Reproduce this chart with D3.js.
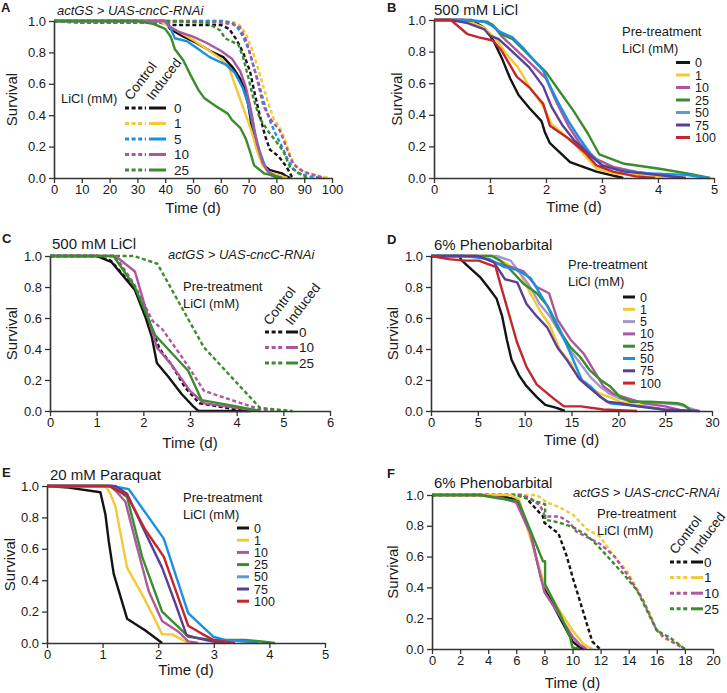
<!DOCTYPE html>
<html>
<head>
<meta charset="utf-8">
<script src="https://cdn.jsdelivr.net/npm/d3@7"></script>
<style>
  body { margin: 0; background: #fff; }
  text { font-family: "Liberation Sans", Arial, sans-serif; fill: #1a1a1a; }
  .axis .domain { stroke: #333; stroke-width: 1.6; }
  .axis .tick line { stroke: #333; stroke-width: 1.3; }
  .axis .tick text { font-size: 13px; }
</style>
</head>
<body>
<div id="fig"></div>
<script>
// ---- data: [time (d), survival] ----

// A: actGS > UAS-cncC-RNAi, lifespan on LiCl
var aDoses = ["0", "1", "5", "10", "25"];
var A_ctrl_0  = [[0,1],[10,0.99],[20,0.99],[30,0.99],[38,0.99],[42,0.975],[50,0.975],[60,0.975],[63,0.95],[65.7,0.88],[68,0.80],[70.5,0.68],[72.3,0.53],[74,0.40],[75.9,0.27],[77.7,0.18],[80.7,0.14],[83.7,0.07],[85.5,0.01],[86,0]];
var A_ind_0   = [[0,1],[40,1],[41.7,0.95],[46.6,0.90],[51.3,0.86],[56,0.81],[60.9,0.77],[64.5,0.70],[66.9,0.635],[68.7,0.56],[69.9,0.465],[71,0.34],[72.9,0.19],[75.3,0.083],[77.7,0.05],[82,0.03],[83.7,0.01],[85,0]];
var A_ctrl_1  = [[0,1],[40,1],[60,1],[65,0.99],[67,0.97],[69,0.92],[71,0.83],[73,0.72],[75,0.60],[77,0.48],[79,0.38],[81,0.33],[83,0.25],[85,0.14],[87,0.07],[90,0.04],[94,0.02],[99,0]];
var A_ind_1   = [[0,1],[38,1],[42,0.96],[46,0.92],[50,0.88],[55,0.82],[60,0.76],[63,0.70],[65,0.60],[67,0.50],[69,0.40],[71,0.30],[73,0.18],[75,0.08],[77,0.04],[80,0.02],[84,0]];
var A_ctrl_5  = [[0,1],[40,1],[60,1],[64,0.99],[66,0.96],[68,0.90],[70,0.82],[72,0.70],[74,0.58],[76,0.45],[78,0.35],[80,0.27],[82,0.20],[84,0.12],[86,0.06],[88,0.03],[92,0.01],[97,0]];
var A_ind_5   = [[0,1],[40,1],[42,0.95],[43.5,0.89],[48,0.87],[52,0.82],[56,0.77],[62,0.72],[65,0.67],[68,0.57],[70,0.46],[72,0.30],[74,0.17],[76,0.07],[78,0.02],[80,0]];
var A_ctrl_10 = [[0,1],[8,0.99],[20,0.99],[30,0.99],[40,0.99],[45,1],[60,0.99],[64,0.98],[66.9,0.96],[69.3,0.87],[71,0.76],[72.9,0.64],[75.3,0.46],[77.7,0.38],[81.3,0.30],[83.7,0.19],[86,0.09],[89.7,0.04],[97,0]];
var A_ind_10  = [[0,1],[40,1],[42,0.96],[45,0.93],[50,0.90],[55,0.86],[60,0.81],[64,0.76],[67,0.68],[69,0.58],[71,0.42],[73,0.22],[75,0.10],[77,0.04],[80,0.01],[82,0]];
var A_ctrl_25 = [[0,1],[40,1],[55,0.99],[59.8,0.94],[61.5,0.89],[63.9,0.87],[66.3,0.85],[68,0.77],[69.9,0.64],[71.7,0.51],[74,0.38],[77,0.30],[80,0.23],[82.5,0.17],[84.9,0.07],[87.3,0.04],[91,0]];
var A_ind_25  = [[0,1],[30,1],[36,0.98],[40,0.95],[42,0.90],[43.5,0.82],[46.5,0.75],[49,0.66],[52,0.56],[54,0.51],[58,0.46],[62.5,0.41],[64,0.37],[67,0.32],[69,0.25],[70.5,0.17],[72,0.08],[75.5,0.03],[80,0.01],[82,0]];
var aControl = [A_ctrl_0, A_ctrl_1, A_ctrl_5, A_ctrl_10, A_ctrl_25];
var aInduced = [A_ind_0, A_ind_1, A_ind_5, A_ind_10, A_ind_25];

// B: 500 mM LiCl after pre-treatment
var bDoses = ["0", "1", "10", "25", "50", "75", "100"];
var B_0   = [[0,1],[0.3,1],[0.67,1],[0.9,0.95],[1.06,0.87],[1.21,0.76],[1.36,0.63],[1.51,0.525],[1.71,0.44],[1.92,0.36],[1.98,0.29],[2.07,0.22],[2.43,0.10],[2.9,0.04],[3.38,0]];
var B_1   = [[0,1],[0.3,1],[0.7,0.98],[0.9,0.95],[1.05,0.90],[1.15,0.86],[1.3,0.78],[1.5,0.70],[1.7,0.58],[1.9,0.48],[2.0,0.42],[2.1,0.34],[2.3,0.28],[2.5,0.22],[2.7,0.14],[2.9,0.06],[3.2,0.03],[3.6,0.02],[4.0,0.01],[4.45,0]];
var B_10  = [[0,1],[0.5,1],[0.9,0.99],[1.05,0.97],[1.2,0.90],[1.5,0.80],[1.8,0.70],[2.0,0.63],[2.2,0.47],[2.4,0.33],[2.6,0.22],[2.9,0.12],[3.2,0.07],[3.6,0.04],[4.0,0.02],[4.5,0]];
var B_25  = [[0,1],[0.5,1],[0.95,0.99],[1.1,0.95],[1.2,0.91],[1.4,0.88],[1.6,0.81],[1.8,0.74],[2.0,0.67],[2.2,0.57],[2.5,0.42],[2.75,0.28],[2.95,0.15],[3.4,0.09],[4.0,0.06],[4.5,0.03],[4.93,0]];
var B_50  = [[0,1],[0.5,1],[0.9,0.99],[1.05,0.96],[1.15,0.93],[1.4,0.89],[1.6,0.82],[1.8,0.74],[1.95,0.68],[2.05,0.60],[2.2,0.49],[2.4,0.36],[2.6,0.25],[2.8,0.15],[3.0,0.08],[3.3,0.05],[3.8,0.03],[4.5,0.02],[4.9,0]];
var B_75  = [[0,1],[0.3,1],[0.6,0.98],[0.9,0.94],[1.0,0.90],[1.15,0.88],[1.4,0.80],[1.7,0.70],[1.95,0.58],[2.1,0.45],[2.3,0.33],[2.5,0.24],[2.8,0.14],[3.0,0.08],[3.4,0.04],[4.0,0.02],[4.5,0]];
var B_100 = [[0,1],[0.3,1],[0.6,0.91],[0.8,0.89],[1.05,0.87],[1.2,0.81],[1.48,0.64],[1.71,0.57],[1.95,0.47],[2.07,0.33],[2.4,0.25],[2.7,0.16],[2.9,0.08],[3.2,0.04],[3.6,0.01],[3.95,0]];
var bSeries = [B_0, B_1, B_10, B_25, B_50, B_75, B_100];

// C: 500 mM LiCl, actGS > UAS-cncC-RNAi
var cDoses = ["0", "10", "25"];
var C_ctrl_0  = [[0,1],[1,1],[1.3,0.97],[1.8,0.80],[2.1,0.60],[2.35,0.40],[2.6,0.30],[2.9,0.15],[3.2,0.05],[3.6,0.03],[4.0,0.01],[4.3,0]];
var C_ind_0   = [[0,1],[1,1],[1.32,0.96],[1.82,0.78],[2.04,0.61],[2.18,0.48],[2.29,0.31],[2.54,0.22],[2.82,0.11],[3.07,0.03],[3.18,0],[4.3,0]];
var C_ctrl_10 = [[0,1],[1.4,1],[1.8,0.82],[2.2,0.58],[2.4,0.53],[2.8,0.36],[3.0,0.27],[3.3,0.13],[3.8,0.08],[4.5,0.01],[5.0,0]];
var C_ind_10  = [[0,1],[1.4,1],[1.82,0.90],[2.07,0.64],[2.29,0.41],[2.6,0.30],[3.0,0.13],[3.3,0.05],[4.0,0.02],[4.5,0]];
var C_ctrl_25 = [[0,1],[1.4,1],[1.8,1],[2.3,0.95],[3.3,0.41],[4.5,0.02],[5.2,0]];
var C_ind_25  = [[0,1],[1.36,1],[1.82,0.80],[2.25,0.49],[2.96,0.26],[3.25,0.07],[4.0,0.03],[4.5,0]];
var cControl = [C_ctrl_0, C_ctrl_10, C_ctrl_25];
var cInduced = [C_ind_0, C_ind_10, C_ind_25];

// D: 6% phenobarbital after pre-treatment
var dDoses = ["0", "1", "5", "10", "25", "50", "75", "100"];
var D_0   = [[0,1],[3,1],[3.3,0.97],[4.2,0.92],[5.3,0.86],[6.2,0.79],[7.0,0.725],[7.6,0.61],[8.1,0.46],[8.6,0.33],[9.4,0.23],[10.2,0.16],[11.3,0.09],[12.2,0.04],[13.4,0.02],[14.3,0]];
var D_1   = [[0,1],[6.5,1],[8.1,0.95],[9.5,0.89],[10.6,0.76],[11.6,0.65],[12.7,0.55],[13.8,0.39],[14.9,0.31],[15.9,0.20],[17,0.15],[18.1,0.11],[19.1,0.09],[20.2,0.06],[22,0.04],[24,0.02],[26,0]];
var D_5   = [[0,1],[7,1],[8.5,0.97],[9.5,0.89],[10.6,0.80],[11.6,0.69],[12.7,0.61],[13.8,0.50],[14.9,0.39],[15.9,0.31],[17,0.22],[18,0.16],[19.1,0.11],[20.2,0.08],[22,0.06],[24.8,0.05],[26.6,0.04],[28.5,0]];
var D_10  = [[0,1],[5,1],[6.7,0.96],[8.5,0.93],[9.9,0.90],[11.3,0.80],[12.6,0.76],[13.5,0.59],[14.9,0.46],[16.3,0.37],[17.4,0.26],[18.4,0.16],[19.5,0.11],[20.6,0.09],[22.7,0.05],[25,0.03],[27,0]];
var D_25  = [[0,1],[6.5,1],[7.4,0.97],[8.5,0.91],[9.9,0.82],[11.3,0.76],[12.4,0.68],[13.5,0.54],[14.9,0.41],[15.9,0.35],[17,0.26],[18.1,0.20],[19.1,0.16],[20.2,0.09],[21.3,0.06],[23.4,0.06],[26.3,0.05],[27,0.04],[27.8,0]];
var D_50  = [[0,1],[3.5,1],[6.2,0.98],[7.8,0.93],[9.2,0.91],[10.6,0.86],[11.6,0.76],[12.7,0.65],[13.8,0.52],[14.9,0.37],[16.1,0.20],[17,0.16],[18.1,0.09],[19.1,0.05],[20.6,0.04],[22.7,0.03],[24.8,0.01],[25.2,0]];
var D_75  = [[0,1],[5,1],[6.7,0.96],[7.9,0.85],[9.2,0.83],[10.2,0.69],[11.3,0.61],[12.4,0.54],[13.5,0.41],[14.5,0.33],[15.8,0.21],[16.7,0.16],[17.7,0.11],[18.8,0.06],[20.2,0.05],[22,0.03],[24.8,0.01],[28.7,0]];
var D_100 = [[0,1],[1.9,0.98],[3.5,0.97],[5.1,0.97],[6.9,0.93],[7.4,0.82],[8.3,0.63],[9.2,0.44],[10.2,0.285],[11.3,0.17],[12.2,0.125],[13.1,0.08],[14.2,0.03],[16,0.03],[18.4,0.01],[22,0]];
var dSeries = [D_0, D_1, D_5, D_10, D_25, D_50, D_75, D_100];

// E: 20 mM paraquat after pre-treatment
var eDoses = ["0", "1", "10", "25", "50", "75", "100"];
var E_0   = [[0,1],[0.39,0.99],[0.96,0.96],[1.05,0.82],[1.11,0.65],[1.2,0.44],[1.44,0.155],[1.77,0.08],[2.07,0]];
var E_1   = [[0,1],[1.05,1],[1.14,0.95],[1.23,0.87],[1.44,0.48],[1.71,0.31],[1.95,0.145],[2.07,0.055],[2.25,0.055],[2.54,0]];
var E_10  = [[0,1],[1.14,1],[1.26,0.96],[1.41,0.90],[1.62,0.61],[1.83,0.33],[2.07,0.14],[2.37,0.07],[2.54,0.01],[2.72,0]];
var E_25  = [[0,1],[1.17,1],[1.44,0.93],[1.71,0.55],[2.07,0.20],[2.37,0.10],[2.54,0.04],[2.96,0.02],[3.56,0.02],[4.1,0]];
var E_50  = [[0,1],[1.17,1],[1.47,0.98],[2.1,0.665],[2.54,0.19],[2.99,0.04],[3.2,0.02],[3.56,0.01],[3.8,0]];
var E_75  = [[0,1],[1.23,1],[1.44,0.95],[1.77,0.70],[2.07,0.48],[2.31,0.25],[2.51,0.05],[2.72,0.03],[2.96,0.01],[3.2,0]];
var E_100 = [[0,1],[1.11,1],[1.44,0.94],[1.77,0.72],[2.1,0.55],[2.31,0.34],[2.54,0.11],[2.78,0.06],[2.99,0.02],[3.38,0]];
var eSeries = [E_0, E_1, E_10, E_25, E_50, E_75, E_100];

// F: 6% phenobarbital, actGS > UAS-cncC-RNAi
var fDoses = ["0", "1", "10", "25"];
var F_ctrl_0  = [[0,1],[5.5,1],[6.5,1],[7.2,0.93],[7.9,0.86],[8.0,0.82],[9.0,0.75],[9.6,0.60],[10.06,0.45],[10.5,0.32],[11,0.17],[11.4,0.05],[11.95,0]];
var F_ind_0   = [[0,1],[3.5,1],[5,0.99],[6,0.97],[7,0.75],[7.8,0.45],[8,0.40],[9,0.22],[10,0.05],[10.5,0.01],[10.8,0]];
var F_ctrl_1  = [[0,1],[7.45,1],[8.2,0.95],[9.1,0.92],[10.06,0.87],[11,0.78],[11.95,0.73],[12.9,0.61],[13.85,0.51],[14.8,0.36],[15.5,0.23],[15.9,0.145],[16.45,0.07],[17.4,0.04],[18,0]];
var F_ind_1   = [[0,1],[5.6,1],[6.2,0.97],[7,0.72],[7.8,0.48],[8,0.42],[9,0.26],[10,0.12],[10.8,0.03],[11.4,0]];
var F_ctrl_10 = [[0,1],[6.3,1],[7,0.98],[7.7,0.93],[8.05,0.86],[9.1,0.86],[9.8,0.82],[10.3,0.76],[11.2,0.72],[12,0.68],[13,0.60],[14,0.47],[15,0.32],[15.5,0.22],[16,0.12],[16.5,0.08],[17,0.05],[18,0]];
var F_ind_10  = [[0,1],[3.5,1],[5,0.98],[6,0.95],[7,0.75],[8,0.37],[9,0.23],[10,0.08],[10.5,0.03],[11,0]];
var F_ctrl_25 = [[0,1],[6,1],[6.3,0.99],[7,0.97],[8.05,0.94],[8.05,0.84],[9.1,0.82],[10.06,0.79],[11,0.74],[11.7,0.68],[12.7,0.58],[13.6,0.49],[14.6,0.38],[15.3,0.25],[16,0.12],[17,0.07],[18,0]];
var F_ind_25  = [[0,1],[3.4,1],[4.6,0.98],[6.15,0.96],[7,0.77],[7.9,0.57],[8.05,0.57],[8.05,0.42],[9.1,0.23],[9.82,0.08],[10,0.01],[10.5,0]];
var fControl = [F_ctrl_0, F_ctrl_1, F_ctrl_10, F_ctrl_25];
var fInduced = [F_ind_0, F_ind_1, F_ind_10, F_ind_25];

var yTicks = [0, 0.2, 0.4, 0.6, 0.8, 1.0];

// ---- colours ----
var cBlack = "#141414", cYellow = "#f3c934", cBlue = "#1a90e0", cPink = "#ad579f",
    cGreen = "#3a8c2c", cViolet = "#5c3f95", cRed = "#c1272d", cLav = "#a497d0", cLegBlue = "#5e9bd6";
var aColors = [cBlack, cYellow, cBlue, cPink, cGreen];
var bColors = [cBlack, cYellow, cPink, cGreen, cBlue, cViolet, cRed];
var bLegend = [cBlack, cYellow, cPink, cGreen, cLegBlue, cViolet, cRed];
var cColors = [cBlack, cPink, cGreen];
var dColors = [cBlack, cYellow, cLav, cPink, cGreen, cBlue, cViolet, cRed];
var fColors = [cBlack, cYellow, cPink, cGreen];

var svg = d3.select("#fig").append("svg")
    .attr("width", 727)
    .attr("height", 693);
svg.append("rect").attr("width", 727).attr("height", 693).attr("fill", "#fff");

function drawPanel(p) {
  var x = d3.scaleLinear().domain(p.xDomain).range([p.left, p.right]);
  var y = d3.scaleLinear().domain([0, 1]).range([p.bottom, p.top]);
  var g = svg.append("g");

  var line = d3.line()
      .x(function(d) { return x(d[0]); })
      .y(function(d) { return y(d[1]); });

  p.lines.forEach(function(s) {
    g.append("path")
        .attr("d", line(s.values))
        .attr("fill", "none")
        .attr("stroke", s.color)
        .attr("stroke-width", 2.4)
        .attr("stroke-linejoin", "round")
        .attr("stroke-dasharray", s.dashed ? "4,2.6" : null);
  });

  g.append("g")
      .attr("class", "axis")
      .attr("transform", "translate(0," + p.bottom + ")")
      .call(d3.axisBottom(x).tickValues(p.xTicks).tickSize(5).tickPadding(2)
        .tickSizeOuter(0).tickFormat(d3.format("d")));
  g.append("g")
      .attr("class", "axis")
      .attr("transform", "translate(" + p.left + ",0)")
      .call(d3.axisLeft(y).tickValues(yTicks).tickSize(5).tickPadding(3)
        .tickSizeOuter(0).tickFormat(d3.format(".1f")));

  g.append("text")
      .attr("x", (p.left + p.right) / 2)
      .attr("y", p.xTitleY)
      .attr("text-anchor", "middle")
      .attr("font-size", 15)
      .text("Time (d)");
  g.append("text")
      .attr("transform", "translate(" + p.yTitleX + "," + (p.top + p.bottom) / 2 + ") rotate(-90)")
      .attr("text-anchor", "middle")
      .attr("dy", "0.35em")
      .attr("font-size", 15)
      .text("Survival");

  g.append("text")
      .attr("x", p.letter[0]).attr("y", p.letter[1])
      .attr("font-size", 13).attr("font-weight", "bold")
      .text(p.letter[2]);
  if (p.title) {
    g.append("text")
        .attr("x", p.title[0]).attr("y", p.title[1])
        .attr("font-size", 15)
        .text(p.title[2]);
  }
  if (p.genotype) {
    g.append("text")
        .attr("x", p.genotype[0]).attr("y", p.genotype[1])
        .attr("font-size", 13).attr("font-style", "italic")
        .text("actGS > UAS-cncC-RNAi");
  }
  return g;
}

function headerLines(g, lines, x, y0, step) {
  lines.forEach(function(t, i) {
    g.append("text").attr("x", x).attr("y", y0 + i * step)
        .attr("font-size", 13).text(t);
  });
}

// single-line swatches (B, D, E)
function simpleLegend(g, L, doses, colors) {
  headerLines(g, ["Pre-treatment", "LiCl (mM)"], L.hx, L.hy, 16.5);
  doses.forEach(function(d, i) {
    var yy = L.y0 + i * L.step;
    g.append("line")
        .attr("x1", L.sx).attr("x2", L.sx + L.sw)
        .attr("y1", yy).attr("y2", yy)
        .attr("stroke", colors[i]).attr("stroke-width", 3);
    g.append("text")
        .attr("x", L.sx + L.sw + 5).attr("y", yy)
        .attr("dy", "0.36em")
        .attr("font-size", 12.5)
        .text(d);
  });
}

// dashed/solid pairs with rotated Control / Induced heads (A, C, F)
function pairLegend(g, L, doses, colors) {
  if (L.header) headerLines(g, L.header, L.hx, L.hy, 16.5);
  [["Control", L.cx], ["Induced", L.ix]].forEach(function(h) {
    g.append("text")
        .attr("transform", "translate(" + h[1] + "," + L.ry + ") rotate(-53)")
        .attr("font-size", 13.5)
        .text(h[0]);
  });
  doses.forEach(function(d, i) {
    var yy = L.y0 + i * L.step;
    g.append("line")
        .attr("x1", L.dx).attr("x2", L.dx + L.dw)
        .attr("y1", yy).attr("y2", yy)
        .attr("stroke", colors[i]).attr("stroke-width", 3)
        .attr("stroke-dasharray", "4,2.6");
    g.append("line")
        .attr("x1", L.dx + L.dw + 3).attr("x2", L.dx + L.dw + 3 + L.solid)
        .attr("y1", yy).attr("y2", yy)
        .attr("stroke", colors[i]).attr("stroke-width", 3);
    g.append("text")
        .attr("x", L.dx + L.dw + 5 + L.solid + L.gap).attr("y", yy)
        .attr("dy", "0.36em")
        .attr("font-size", 13.5)
        .text(d);
  });
}

function pairs(ctrl, ind, colors) {
  var out = [];
  ctrl.forEach(function(v, i) { out.push({values: v, color: colors[i], dashed: true}); });
  ind.forEach(function(v, i) { out.push({values: v, color: colors[i], dashed: false}); });
  return out;
}
function singles(series, colors) {
  return series.map(function(v, i) { return {values: v, color: colors[i], dashed: false}; });
}

// ---- A ----
var gA = drawPanel({
  left: 54, right: 332, top: 21, bottom: 178,
  xDomain: [0, 100], xTicks: d3.range(0, 101, 10),
  xTitleY: 213, yTitleX: 12,
  letter: [1, 12, "A"], genotype: [57, 15],
  lines: pairs(aControl, aInduced, aColors)
});
gA.append("text").attr("x", 61).attr("y", 103).attr("font-size", 13).text("LiCl (mM)");
pairLegend(gA, {cx: 131, ix: 153, ry: 101, y0: 108, step: 15.5, dx: 125, dw: 21, solid: 17, gap: 6},
  aDoses, aColors);

// ---- B ----
var gB = drawPanel({
  left: 434, right: 714, top: 20, bottom: 178,
  xDomain: [0, 5], xTicks: d3.range(0, 6, 1),
  xTitleY: 212, yTitleX: 397,
  letter: [387, 12, "B"], title: [434, 15, "500 mM LiCl"],
  lines: singles(bSeries, bColors)
});
simpleLegend(gB, {hx: 622, hy: 36, y0: 62.5, step: 12.5, sx: 676, sw: 14}, bDoses, bLegend);

// ---- C ----
var gC = drawPanel({
  left: 50, right: 330, top: 256, bottom: 411,
  xDomain: [0, 6], xTicks: d3.range(0, 7, 1),
  xTitleY: 448, yTitleX: 12,
  letter: [2, 243, "C"], title: [52, 249, "500 mM LiCl"], genotype: [168, 259],
  lines: pairs(cControl, cInduced, cColors)
});
pairLegend(gC, {header: ["Pre-treatment", "LiCl (mM)"], hx: 183, hy: 291,
  cx: 270, ix: 292, ry: 326, y0: 332, step: 15.5, dx: 265, dw: 18, solid: 12, gap: -1},
  cDoses, cColors);

// ---- D ----
var gD = drawPanel({
  left: 431, right: 712, top: 256, bottom: 411,
  xDomain: [0, 30], xTicks: d3.range(0, 31, 5),
  xTitleY: 445, yTitleX: 393,
  letter: [387, 244, "D"], title: [434, 250, "6% Phenobarbital"],
  lines: singles(dSeries, dColors)
});
simpleLegend(gD, {hx: 568, hy: 269, y0: 297, step: 12.3, sx: 623, sw: 12}, dDoses, dColors);

// ---- E ----
var gE = drawPanel({
  left: 47, right: 325, top: 486, bottom: 643,
  xDomain: [0, 5], xTicks: d3.range(0, 6, 1),
  xTitleY: 675, yTitleX: 10,
  letter: [2, 477, "E"], title: [50, 480, "20 mM Paraquat"],
  lines: singles(eSeries, bColors)
});
simpleLegend(gE, {hx: 183, hy: 502, y0: 528, step: 12.2, sx: 237, sw: 12}, eDoses, bLegend);

// ---- F ----
var gF = drawPanel({
  left: 432, right: 713, top: 495, bottom: 649,
  xDomain: [0, 20], xTicks: d3.range(0, 21, 2),
  xTitleY: 688, yTitleX: 393,
  letter: [387, 478, "F"], title: [434, 488, "6% Phenobarbital"], genotype: [573, 497],
  lines: pairs(fControl, fInduced, fColors)
});
pairLegend(gF, {header: ["Pre-treatment", "LiCl (mM)"], hx: 597, hy: 518,
  cx: 676, ix: 697, ry: 555, y0: 562, step: 15.6, dx: 670, dw: 18, solid: 12, gap: -1},
  fDoses, fColors);
</script>
</body>
</html>
